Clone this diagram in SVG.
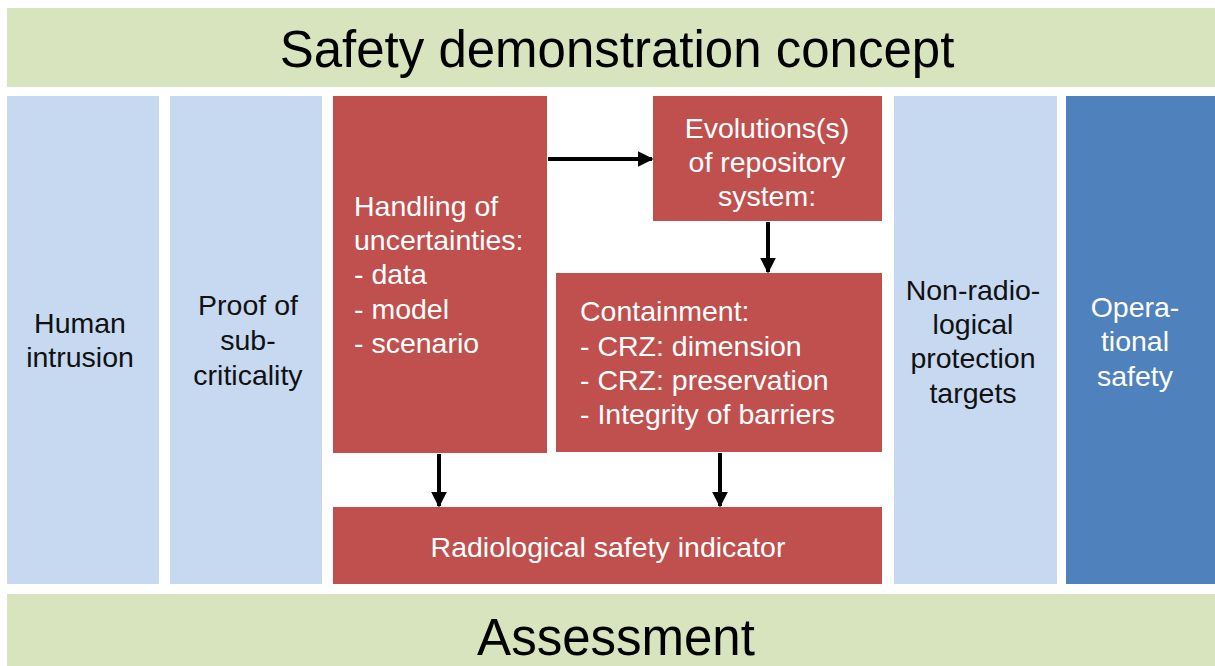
<svg xmlns="http://www.w3.org/2000/svg" width="1215" height="666" viewBox="0 0 1215 666">
<style>
.band{fill:#d7e4bd}
.lb{fill:#c6d9f1}
.red{fill:#c0504d}
.db{fill:#4f81bd}
text{font-family:"Liberation Sans",Arial,sans-serif}
.big{font-size:51px;fill:#000;text-anchor:middle}
.t{font-size:28.5px}
.dk{fill:#111}
.wh{fill:#fff}
.c{text-anchor:middle}
.conn line{stroke:#000;stroke-width:4;marker-end:url(#ah)}
</style>
<defs>
<marker id="ah" viewBox="0 0 10 10" refX="9" refY="5" markerWidth="4" markerHeight="4" orient="auto" markerUnits="strokeWidth">
<path d="M0,0 L10,5 L0,10 z" fill="#000"/>
</marker>
</defs>
<rect width="1215" height="666" fill="#fff"/>
<g id="top"><rect class="band" x="7" y="8" width="1208" height="79"/><text class="big" x="617" y="67">Safety demonstration concept</text></g>
<g id="human"><rect class="lb" x="7" y="96" width="152" height="488"/><text class="t dk c" x="80" y="333">Human</text><text class="t dk c" x="80" y="367">intrusion</text></g>
<g id="proof"><rect class="lb" x="170" y="96" width="152" height="488"/><text class="t dk c" x="248" y="315">Proof of</text><text class="t dk c" x="248" y="350">sub-</text><text class="t dk c" x="248" y="385">criticality</text></g>
<g id="handling"><rect class="red" x="333" y="96" width="214" height="357"/>
<text class="t wh" x="354" y="216">Handling of</text><text class="t wh" x="354" y="250">uncertainties:</text><text class="t wh" x="354" y="284">- data</text><text class="t wh" x="354" y="319">- model</text><text class="t wh" x="354" y="353">- scenario</text></g>
<g id="evolutions"><rect class="red" x="653" y="96" width="229" height="125"/>
<text class="t wh c" x="767" y="138">Evolutions(s)</text><text class="t wh c" x="767" y="172">of repository</text><text class="t wh c" x="767" y="206">system:</text></g>
<g id="containment"><rect class="red" x="556" y="273" width="326" height="179"/>
<text class="t wh" x="580" y="321">Containment:</text><text class="t wh" x="580" y="356">- CRZ: dimension</text><text class="t wh" x="580" y="390">- CRZ: preservation</text><text class="t wh" x="580" y="424">- Integrity of barriers</text></g>
<g id="radiological"><rect class="red" x="333" y="507" width="549" height="77"/><text class="t wh c" x="608" y="557">Radiological safety indicator</text></g>
<g id="nonradio"><rect class="lb" x="894" y="96" width="163" height="488"/><text class="t dk c" x="973" y="300">Non-radio-</text><text class="t dk c" x="973" y="334">logical</text><text class="t dk c" x="973" y="368">protection</text><text class="t dk c" x="973" y="403">targets</text></g>
<g id="operational"><rect class="db" x="1066" y="96" width="149" height="488"/><text class="t wh c" x="1135" y="317">Opera-</text><text class="t wh c" x="1135" y="351">tional</text><text class="t wh c" x="1135" y="386">safety</text></g>
<g id="assessment"><rect class="band" x="7" y="594" width="1208" height="72"/><text class="big" x="616" y="655">Assessment</text></g>
<g class="conn">
<line x1="548" y1="159" x2="652" y2="159"/>
<line x1="768" y1="222" x2="768" y2="272"/>
<line x1="439" y1="454" x2="439" y2="506"/>
<line x1="720" y1="453" x2="720" y2="506"/>
</g>
</svg>
